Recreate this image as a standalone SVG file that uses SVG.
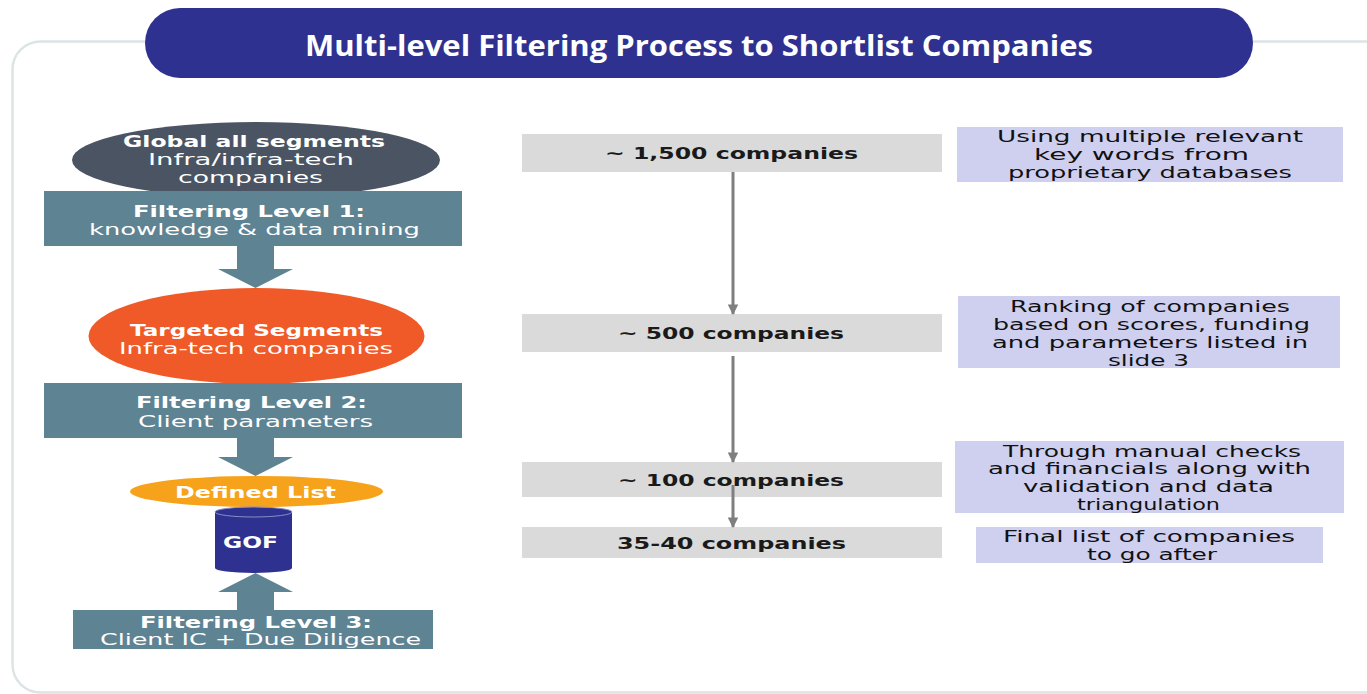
<svg xmlns="http://www.w3.org/2000/svg" width="1367" height="694" viewBox="0 0 1367 694">
<defs>
<style>
.lt{font-family:"DejaVu Sans","Liberation Sans",sans-serif;font-size:16px;fill:#ffffff;text-anchor:middle}
.b{font-weight:bold}
.mt{font-family:"DejaVu Sans","Liberation Sans",sans-serif;font-size:16px;font-weight:bold;fill:#1a1a1a;text-anchor:middle}
.rt{font-family:"DejaVu Sans","Liberation Sans",sans-serif;font-size:16px;fill:#111111;text-anchor:middle}
.gbox{fill:#dadada}
.lbox{fill:#cfd0ef}
.fbox{fill:#5e8393}
.conn{stroke:#7f7f7f;stroke-width:3;fill:none}
.fat{fill:#5e8393}
</style>
<marker id="ah" viewBox="0 0 10 10" refX="9" refY="5" markerWidth="4" markerHeight="3.5" markerUnits="strokeWidth" orient="auto">
<path d="M0,0 L10,5 L0,10 z" fill="#7f7f7f"/>
</marker>
</defs>
<rect width="1367" height="694" fill="#ffffff"/>
<rect id="frame" x="12.5" y="41.5" width="1390" height="651" rx="28" fill="none" stroke="#dce4e6" stroke-width="2.5"/>
<g id="title">
<rect x="145" y="8" width="1108" height="70" rx="35" fill="#2e3190"/>
<text x="699" y="56" font-family="'Open Sans','Liberation Sans',sans-serif" font-size="29" font-weight="bold" fill="#ffffff" text-anchor="middle" textLength="788" lengthAdjust="spacingAndGlyphs">Multi-level Filtering Process to Shortlist Companies</text>
</g>
<g id="left-arrows">
<path class="fat" d="M237,246 H274 V269 H293 L255.5,288 L218,269 H237 Z"/>
<path class="fat" d="M237,438 H274 V457 H293 L255.5,476 L218,457 H237 Z"/>
<path class="fat" d="M237,610 H274 V592 H293 L255.5,573 L218,592 H237 Z"/>
</g>
<g id="global">
<ellipse cx="256" cy="160" rx="184" ry="38" fill="#4a5462"/>
<text class="lt b" x="254" y="147" textLength="262" lengthAdjust="spacingAndGlyphs">Global all segments</text>
<text class="lt" x="251" y="165" textLength="206" lengthAdjust="spacingAndGlyphs">Infra/infra-tech</text>
<text class="lt" x="250.5" y="183" textLength="145" lengthAdjust="spacingAndGlyphs">companies</text>
</g>
<g id="level1">
<rect class="fbox" x="44" y="191" width="418" height="55"/>
<text class="lt b" x="249" y="217" textLength="232" lengthAdjust="spacingAndGlyphs">Filtering Level 1:</text>
<text class="lt" x="254.5" y="235" textLength="331" lengthAdjust="spacingAndGlyphs">knowledge &amp; data mining</text>
</g>
<g id="targeted">
<ellipse cx="256.5" cy="336" rx="168" ry="48" fill="#f05a28"/>
<text class="lt b" x="256.5" y="336" textLength="253" lengthAdjust="spacingAndGlyphs">Targeted Segments</text>
<text class="lt" x="256" y="354" textLength="274" lengthAdjust="spacingAndGlyphs">Infra-tech companies</text>
</g>
<g id="level2">
<rect class="fbox" x="44" y="383" width="418" height="55"/>
<text class="lt b" x="251.5" y="408" textLength="231" lengthAdjust="spacingAndGlyphs">Filtering Level 2:</text>
<text class="lt" x="255.5" y="427" textLength="235" lengthAdjust="spacingAndGlyphs">Client parameters</text>
</g>
<g id="defined">
<ellipse cx="256.5" cy="491.5" rx="126.5" ry="15.5" fill="#f7a21b"/>
<text class="lt b" x="255.5" y="497.5" textLength="161" lengthAdjust="spacingAndGlyphs">Defined List</text>
</g>
<g id="gof">
<path d="M215,512 V568 A38.5,5 0 0 0 292,568 V512 Z" fill="#2e3190"/>
<ellipse cx="253.5" cy="512" rx="38.5" ry="5" fill="#2e3190" stroke="#8b8dc4" stroke-width="1"/>
<text class="lt b" x="250.5" y="548" font-size="17" textLength="55" lengthAdjust="spacingAndGlyphs">GOF</text>
</g>
<g id="level3">
<rect class="fbox" x="73" y="610" width="360" height="39"/>
<text class="lt b" x="256" y="628" textLength="232" lengthAdjust="spacingAndGlyphs">Filtering Level 3:</text>
<text class="lt" x="260.5" y="645" textLength="321" lengthAdjust="spacingAndGlyphs">Client IC + Due Diligence</text>
</g>
<g id="c1500">
<rect class="gbox" x="522" y="134" width="420" height="38"/>
<text class="mt" x="731.5" y="159" textLength="253" lengthAdjust="spacingAndGlyphs">~ 1,500 companies</text>
</g>
<g id="c500">
<rect class="gbox" x="522" y="314" width="420" height="38"/>
<text class="mt" x="731" y="339" textLength="226" lengthAdjust="spacingAndGlyphs">~ 500 companies</text>
</g>
<g id="c100">
<rect class="gbox" x="522" y="462" width="420" height="35"/>
<text class="mt" x="731" y="486" textLength="226" lengthAdjust="spacingAndGlyphs">~ 100 companies</text>
</g>
<g id="c35">
<rect class="gbox" x="522" y="527" width="420" height="31"/>
<text class="mt" x="731.5" y="549" textLength="229" lengthAdjust="spacingAndGlyphs">35-40 companies</text>
</g>
<g id="connectors">
<line class="conn" x1="733" y1="172" x2="733" y2="314" marker-end="url(#ah)"/>
<line class="conn" x1="733" y1="356" x2="733" y2="462" marker-end="url(#ah)"/>
<line class="conn" x1="733" y1="485" x2="733" y2="527" marker-end="url(#ah)"/>
</g>
<g id="n1">
<rect class="lbox" x="957" y="127" width="386" height="55"/>
<text class="rt" x="1150" y="142" textLength="306" lengthAdjust="spacingAndGlyphs">Using multiple relevant</text>
<text class="rt" x="1141.5" y="160" textLength="215" lengthAdjust="spacingAndGlyphs">key words from</text>
<text class="rt" x="1150" y="178" textLength="284" lengthAdjust="spacingAndGlyphs">proprietary databases</text>
</g>
<g id="n2">
<rect class="lbox" x="958" y="296" width="382" height="72"/>
<text class="rt" x="1150" y="312" textLength="280" lengthAdjust="spacingAndGlyphs">Ranking of companies</text>
<text class="rt" x="1151.5" y="330" textLength="317" lengthAdjust="spacingAndGlyphs">based on scores, funding</text>
<text class="rt" x="1150" y="348" textLength="316" lengthAdjust="spacingAndGlyphs">and parameters listed in</text>
<text class="rt" x="1148.5" y="366" textLength="81" lengthAdjust="spacingAndGlyphs">slide 3</text>
</g>
<g id="n3">
<rect class="lbox" x="955" y="441" width="389" height="72"/>
<text class="rt" x="1152" y="457" textLength="298" lengthAdjust="spacingAndGlyphs">Through manual checks</text>
<text class="rt" x="1149.5" y="474" textLength="323" lengthAdjust="spacingAndGlyphs">and financials along with</text>
<text class="rt" x="1148.5" y="492" textLength="251" lengthAdjust="spacingAndGlyphs">validation and data</text>
<text class="rt" x="1148.5" y="510" textLength="143" lengthAdjust="spacingAndGlyphs">triangulation</text>
</g>
<g id="n4">
<rect class="lbox" x="976" y="527" width="347" height="36"/>
<text class="rt" x="1149" y="542" textLength="292" lengthAdjust="spacingAndGlyphs">Final list of companies</text>
<text class="rt" x="1152" y="560" textLength="130" lengthAdjust="spacingAndGlyphs">to go after</text>
</g>
</svg>
